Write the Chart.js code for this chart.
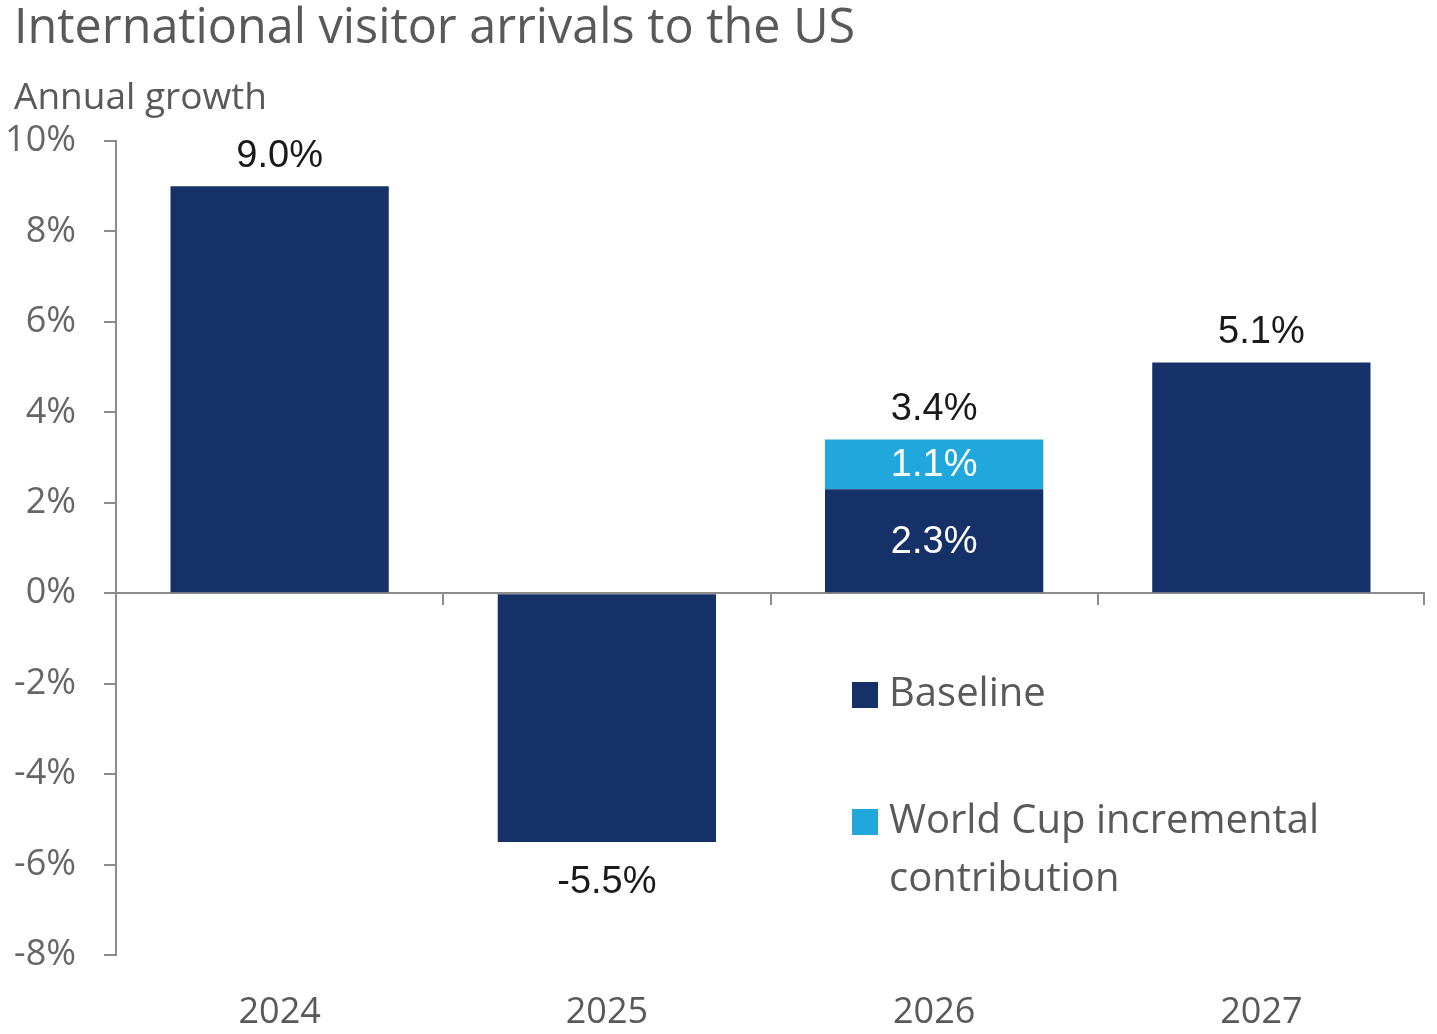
<!DOCTYPE html>
<html>
<head>
<meta charset="utf-8">
<title>International visitor arrivals to the US</title>
<script src="https://cdn.jsdelivr.net/npm/chart.js@4.4.1/dist/chart.umd.min.js"></script>
<style>
  html, body { margin: 0; padding: 0; background: #ffffff; }
  #wrap { position: relative; width: 1437px; height: 1034px; overflow: hidden; }
  #title { position: absolute; left: 14px; top: -9px; font-family: "Open Sans", sans-serif; font-size: 48.5px; color: #595959; white-space: nowrap; }
  #subtitle { position: absolute; left: 14px; top: 69px; font-family: "Open Sans", sans-serif; font-size: 37px; color: #595959; white-space: nowrap; }
  canvas { position: absolute; left: 0; top: 0; }
</style>
</head>
<body>
<div id="wrap">
  <canvas id="chart" width="1437" height="1034"></canvas>
  <div id="title">International visitor arrivals to the US</div>
  <div id="subtitle">Annual growth</div>
</div>
<script>
// Annual growth of international visitor arrivals, in percent
const years = ['2024', '2025', '2026', '2027'];
const baseline = [9.0, -5.5, 2.3, 5.1];
const worldCup = [null, null, 1.1, null];
const totals = [9.0, -5.5, 3.4, 5.1];
const yTicks = [-8, -6, -4, -2, 0, 2, 4, 6, 8, 10];
const seriesNames = ['Baseline', 'World Cup incremental contribution'];

const NAVY = '#163068';
const SKY = '#20a8dc';
const AXIS = '#8c8c8c';

const fmt = v => v.toFixed(1) + '%';

// zero line across the plot with short category separators below it
const zeroAxis = {
  id: 'zeroAxis',
  beforeDatasetsDraw(chart) {
    const { ctx, chartArea, scales: { x, y } } = chart;
    const y0 = Math.round(y.getPixelForValue(0));
    ctx.save();
    ctx.strokeStyle = AXIS;
    ctx.lineWidth = 2;
    ctx.beginPath();
    ctx.moveTo(chartArea.left, y0);
    ctx.lineTo(chartArea.right, y0);
    for (let i = 0; i < years.length; i++) {
      const bx = i < years.length - 1
        ? (x.getPixelForValue(i) + x.getPixelForValue(i + 1)) / 2
        : chartArea.right - 1;
      ctx.moveTo(Math.round(bx), y0);
      ctx.lineTo(Math.round(bx), y0 + 12);
    }
    ctx.stroke();
    ctx.restore();
  }
};

// value labels: totals outside each stack, segment values inside split stacks
const valueLabels = {
  id: 'valueLabels',
  afterDatasetsDraw(chart) {
    const { ctx, scales: { x, y } } = chart;
    ctx.save();
    ctx.textAlign = 'center';
    ctx.textBaseline = 'middle';
    ctx.font = '38px "Liberation Sans", Arial, sans-serif';
    totals.forEach((t, i) => {
      const cx = x.getPixelForValue(i);
      const end = y.getPixelForValue(t);
      ctx.fillStyle = '#1a1a1a';
      ctx.fillText(fmt(t), cx, t >= 0 ? end - 30 : end + 41);
      if (worldCup[i] !== null) {
        const b0 = y.getPixelForValue(0);
        const b1 = y.getPixelForValue(baseline[i]);
        const w1 = y.getPixelForValue(baseline[i] + worldCup[i]);
        ctx.fillStyle = '#ffffff';
        ctx.fillText(fmt(baseline[i]), cx, (b0 + b1) / 2 + 1);
        ctx.fillText(fmt(worldCup[i]), cx, (b1 + w1) / 2 + 1);
      }
    });
    ctx.restore();
  }
};

// legend placed inside the plot area, lower right
const insideLegend = {
  id: 'insideLegend',
  afterDraw(chart) {
    const { ctx } = chart;
    const items = [
      { color: NAVY, lines: ['Baseline'], top: 695 },
      { color: SKY, lines: ['World Cup incremental', 'contribution'], top: 822 }
    ];
    ctx.save();
    ctx.font = '40px "Open Sans", sans-serif';
    ctx.textBaseline = 'middle';
    ctx.textAlign = 'left';
    items.forEach(it => {
      ctx.fillStyle = it.color;
      ctx.fillRect(852, it.top - 13, 26, 26);
      ctx.fillStyle = '#595959';
      it.lines.forEach((ln, k) => ctx.fillText(ln, 889, it.top + k * 58));
    });
    ctx.restore();
  }
};

new Chart(document.getElementById('chart'), {
  type: 'bar',
  data: {
    labels: years,
    datasets: [
      { label: seriesNames[0], data: baseline, backgroundColor: NAVY, borderWidth: 0 },
      { label: seriesNames[1], data: worldCup, backgroundColor: SKY, borderWidth: 0 }
    ]
  },
  options: {
    responsive: false,
    animation: false,
    events: [],
    layout: { padding: { top: 141, right: 12, left: 0, bottom: 0 } },
    datasets: { bar: { categoryPercentage: 1.0, barPercentage: 0.667 } },
    plugins: { legend: { display: false }, tooltip: { enabled: false }, title: { display: false } },
    scales: {
      x: {
        stacked: true,
        grid: { display: false, drawTicks: false },
        border: { display: false },
        ticks: { color: '#595959', padding: 36, font: { family: '"Open Sans", sans-serif', size: 36 } },
        afterFit(s) { s.height = 79; }
      },
      y: {
        stacked: true,
        min: -8,
        max: 10,
        afterBuildTicks(s) { s.ticks = yTicks.map(v => ({ value: v })); },
        ticks: {
          color: '#666666',
          padding: 28,
          font: { family: '"Open Sans", sans-serif', size: 36 },
          callback: v => v + '%'
        },
        grid: { drawOnChartArea: false, drawTicks: true, tickLength: 12, color: AXIS, lineWidth: 2 },
        border: { display: true, color: AXIS, width: 2 },
        afterFit(s) { s.width = 116; }
      }
    }
  },
  plugins: [zeroAxis, valueLabels, insideLegend]
});
</script>
</body>
</html>
